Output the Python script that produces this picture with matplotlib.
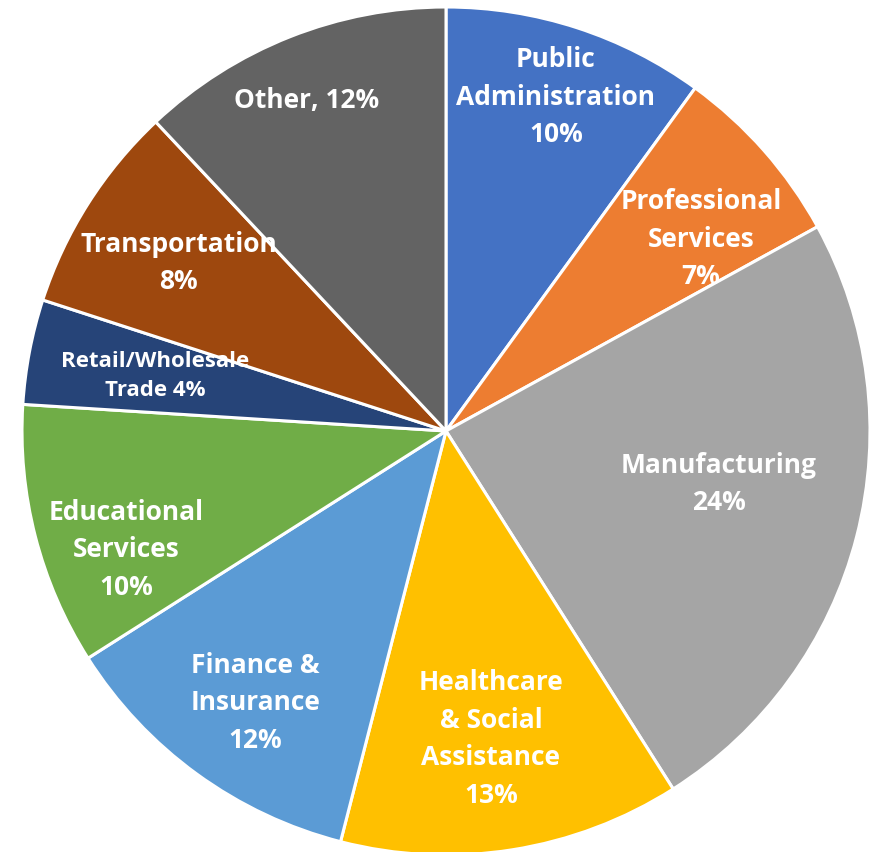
import matplotlib.pyplot as plt

# industry shares (percent), clockwise from 12 o'clock
sectors = ['Public\nAdministration', 'Professional\nServices', 'Manufacturing',
           'Healthcare\n& Social\nAssistance', 'Finance &\nInsurance',
           'Educational\nServices', 'Retail/Wholesale\nTrade', 'Transportation', 'Other']
shares = [10, 7, 24, 13, 12, 10, 4, 8, 12]
label_text = ['Public\nAdministration\n10%', 'Professional\nServices\n7%', 'Manufacturing\n24%',
              'Healthcare\n& Social\nAssistance\n13%', 'Finance &\nInsurance\n12%',
              'Educational\nServices\n10%', 'Retail/Wholesale\nTrade 4%', 'Transportation\n8%',
              'Other, 12%']
colors = ['#4472C4', '#ED7D31', '#A5A5A5', '#FFC000', '#5B9BD5',
          '#70AD47', '#264478', '#9E480E', '#636363']

# label positions in pie-radius units
label_pos = [(0.259, 0.790), (0.601, 0.455), (0.644, -0.123), (0.106, -0.724),
             (-0.450, -0.639), (-0.755, -0.278), (-0.686, 0.132), (-0.630, 0.399),
             (-0.328, 0.783)]

fig = plt.figure(figsize=(8.82, 8.53), dpi=100)
ax = fig.add_axes([0, 0, 1, 1])
ax.pie(shares, colors=colors, startangle=90, counterclock=False,
       wedgeprops=dict(edgecolor='white', linewidth=2.2))
ax.set_xlim(-446 / 424, 436 / 424)
ax.set_ylim(-421 / 424, 432 / 424)
ax.set_aspect('auto')

for i, (x, y) in enumerate(label_pos):
    fs = 16 if i == 6 else 19
    ax.text(x, y, label_text[i], ha='center', va='center', color='white',
            fontsize=fs, fontweight='bold', family='Open Sans', linespacing=1.5)

fig.savefig('out.png', dpi=100)
